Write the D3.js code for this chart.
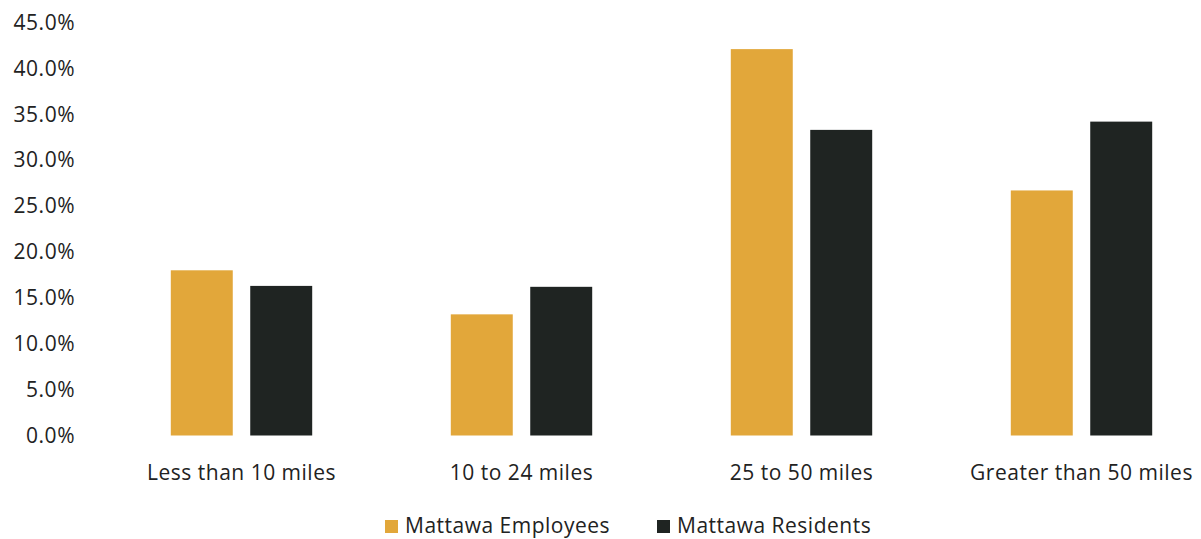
<!DOCTYPE html>
<html>
<head>
<meta charset="utf-8">
<script src="https://cdn.jsdelivr.net/npm/d3@7"></script>
<style>
  html, body { margin: 0; padding: 0; background: #fff; }
  svg { display: block; }
  text { font-family: "Open Sans", "Noto Sans", sans-serif; fill: #222; }
</style>
</head>
<body>
<svg id="chart" width="1201" height="539"></svg>
<script>
// Distance travelled, share of each group
const categories = ["Less than 10 miles", "10 to 24 miles", "25 to 50 miles", "Greater than 50 miles"];
const seriesNames = ["Mattawa Employees", "Mattawa Residents"];
const employees = [18.0, 13.2, 42.1, 26.7];
const residents = [16.3, 16.2, 33.3, 34.2];
const yTicks = [0, 5, 10, 15, 20, 25, 30, 35, 40, 45];
const colors = ["#E2A73A", "#1F2422"];

const FONT_SIZE = "21px";
const LETTER_SPACING = "0.5px";

const svg = d3.select("#chart");

const rows = categories.map((c, i) => ({
  category: c,
  values: [
    { series: seriesNames[0], value: employees[i] },
    { series: seriesNames[1], value: residents[i] }
  ]
}));

const y = d3.scaleLinear().domain([0, 45]).range([435.5, 22.5]);

const x0 = d3.scaleBand()
  .domain(categories)
  .range([101.5, 1221.5])
  .paddingInner(0.495)
  .paddingOuter(0.2475);

const x1 = d3.scaleBand()
  .domain(seriesNames)
  .range([0, x0.bandwidth()])
  .paddingInner(0.22)
  .paddingOuter(0);

const color = d3.scaleOrdinal().domain(seriesNames).range(colors);

function styleText(sel) {
  sel.style("font-family", "'Open Sans', sans-serif")
    .style("font-size", FONT_SIZE)
    .style("letter-spacing", LETTER_SPACING)
    .style("fill", "#222");
}

// Y axis: labels only, no line or ticks
const yAxis = svg.append("g")
  .attr("transform", "translate(75,0)")
  .call(d3.axisLeft(y).tickValues(yTicks).tickFormat(d => d.toFixed(1) + "%").tickSize(0).tickPadding(0));
yAxis.select(".domain").remove();
yAxis.selectAll("text").call(styleText);

// Bars
const groups = svg.append("g").selectAll("g")
  .data(rows)
  .join("g")
  .attr("transform", d => `translate(${x0(d.category)},0)`);

groups.selectAll("rect")
  .data(d => d.values)
  .join("rect")
  .attr("x", d => x1(d.series))
  .attr("width", x1.bandwidth())
  .attr("y", d => y(d.value))
  .attr("height", d => y(0) - y(d.value))
  .attr("fill", d => color(d.series));

// X axis: category labels only
const xAxis = svg.append("g")
  .attr("transform", "translate(0,465)")
  .call(d3.axisBottom(x0).tickSize(0).tickPadding(0));
xAxis.select(".domain").remove();
xAxis.selectAll("text")
  .attr("dy", "0.71em")
  .call(styleText);

// Legend
const legendX = [385, 657];
const legend = svg.append("g").selectAll("g")
  .data(seriesNames)
  .join("g")
  .attr("transform", (d, i) => `translate(${legendX[i]},520)`);
legend.append("rect")
  .attr("width", 13)
  .attr("height", 13)
  .attr("fill", d => color(d));
legend.append("text")
  .attr("x", 20)
  .attr("y", 13)
  .call(styleText)
  .text(d => d);
</script>
</body>
</html>
